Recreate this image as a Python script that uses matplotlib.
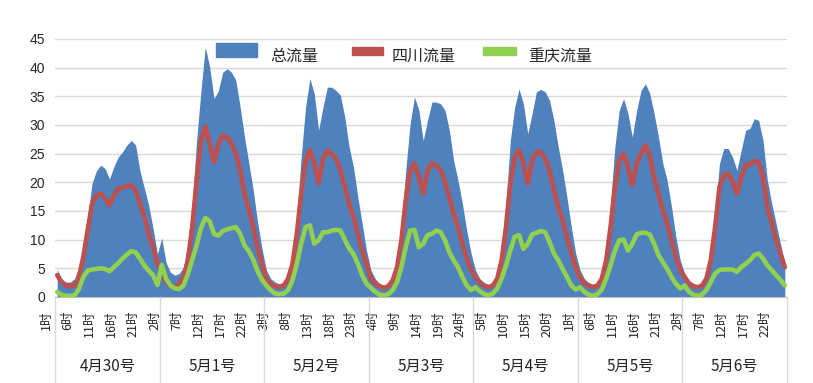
import matplotlib
matplotlib.use("Agg")
import matplotlib.pyplot as plt
import numpy as np
from matplotlib.transforms import blended_transform_factory, ScaledTranslation
from matplotlib.patches import Rectangle

plt.rcParams['font.family'] = ['Noto Sans CJK SC', 'DejaVu Sans']

# ---------------- data ----------------
days = ["4月30号", "5月1号", "5月2号", "5月3号", "5月4号", "5月5号", "5月6号"]
hour_labels = [f"{h}时" for h in range(1, 25)]
series_names = ["总流量", "四川流量", "重庆流量"]

total = [
    4.8, 3.2, 2.6, 2.6, 3.2, 5.2, 8.1, 14.0, 19.8, 22.0, 23.0, 22.4, 20.6, 22.7, 24.4, 25.3, 26.5, 27.3, 26.5, 22.0, 19.0, 16.0, 12.0, 7.5,
    10.3, 6.0, 4.3, 3.8, 4.1, 5.2, 9.3, 16.3, 27.3, 36.0, 43.6, 40.1, 34.6, 36.0, 39.2, 39.8, 39.2, 37.8, 33.1, 27.9, 23.3, 18.6, 13.0, 8.5,
    4.7, 3.2, 2.6, 2.3, 2.6, 3.8, 7.0, 14.0, 24.4, 33.1, 38.1, 35.5, 29.1, 33.1, 36.6, 36.6, 36.0, 35.2, 31.4, 26.2, 22.7, 17.4, 12.8, 8.1,
    4.7, 3.2, 2.3, 2.0, 2.3, 3.5, 6.4, 12.8, 22.1, 30.2, 34.9, 32.6, 27.3, 30.8, 34.0, 34.0, 33.7, 32.6, 29.1, 23.8, 20.3, 16.3, 11.6, 7.6,
    4.7, 3.2, 2.5, 2.2, 2.6, 4.1, 8.1, 16.3, 27.3, 33.1, 36.3, 33.7, 28.5, 32.0, 35.8, 36.2, 35.8, 34.3, 30.8, 26.2, 22.1, 17.4, 12.2, 7.6,
    4.7, 3.2, 2.5, 2.2, 2.6, 4.1, 8.1, 16.3, 26.2, 32.6, 34.6, 32.0, 27.9, 32.6, 36.0, 37.2, 35.5, 32.0, 27.9, 23.3, 20.3, 15.7, 10.5, 6.4,
    4.1, 2.8, 2.2, 2.0, 2.3, 3.5, 7.0, 14.5, 23.3, 25.9, 25.9, 24.4, 22.1, 25.6, 29.1, 29.4, 31.1, 30.8, 27.3, 20.3, 16.3, 12.8, 9.3, 5.8,
]

sichuan = [
    3.8, 2.6, 2.0, 1.9, 2.0, 3.5, 7.0, 11.6, 16.3, 17.7, 18.0, 17.2, 16.0, 17.7, 18.9, 19.1, 19.3, 19.5, 18.6, 16.3, 14.0, 11.0, 8.7, 5.9,
    4.4, 2.6, 1.9, 1.7, 2.3, 3.5, 6.4, 12.2, 20.3, 27.3, 29.7, 26.7, 23.5, 26.7, 28.2, 27.9, 26.7, 25.0, 22.1, 18.0, 15.1, 12.2, 8.5, 5.8,
    3.2, 2.3, 1.9, 1.7, 2.0, 3.2, 5.8, 11.0, 18.0, 23.8, 25.6, 23.3, 19.8, 24.1, 25.6, 25.0, 24.1, 22.1, 19.2, 16.3, 14.0, 11.0, 8.1, 5.8,
    3.2, 2.3, 1.9, 1.6, 1.9, 2.9, 5.2, 9.9, 16.9, 22.1, 23.3, 20.9, 18.0, 22.1, 23.3, 23.0, 22.1, 20.1, 17.4, 14.5, 12.2, 9.3, 6.7, 4.7,
    3.5, 2.5, 2.0, 1.7, 2.0, 3.2, 6.4, 12.2, 19.8, 24.4, 25.6, 23.3, 19.8, 23.8, 25.3, 25.3, 24.1, 22.1, 18.6, 15.7, 13.4, 10.5, 7.6, 5.2,
    3.4, 2.4, 2.0, 1.7, 2.0, 3.2, 6.4, 12.2, 19.2, 23.8, 25.0, 22.7, 19.5, 23.3, 25.0, 26.5, 24.7, 20.9, 18.0, 15.1, 12.8, 9.9, 7.0, 4.7,
    3.5, 2.4, 1.9, 1.7, 2.0, 3.2, 6.4, 12.2, 19.2, 21.2, 21.5, 20.1, 18.0, 20.9, 23.0, 23.1, 23.8, 23.5, 20.9, 15.7, 12.8, 9.9, 7.6, 5.2,
]

chongqing = [
    0.9, 0.4, 0.2, 0.2, 0.3, 1.4, 3.5, 4.6, 4.8, 4.9, 5.0, 4.9, 4.5, 5.2, 5.9, 6.7, 7.4, 8.0, 7.8, 6.7, 5.5, 4.6, 3.8, 2.1,
    5.6, 3.2, 2.0, 1.5, 1.4, 2.0, 4.0, 6.5, 9.0, 12.0, 13.8, 13.2, 11.0, 10.7, 11.5, 11.8, 12.0, 12.2, 11.0, 9.0, 8.0, 6.5, 4.5, 3.0,
    2.0, 1.2, 0.6, 0.5, 0.6, 1.2, 2.9, 5.8, 9.3, 12.2, 12.5, 9.3, 9.9, 11.3, 11.3, 11.6, 11.7, 11.6, 10.0, 8.5, 7.5, 5.8, 3.8, 2.3,
    1.6, 0.9, 0.4, 0.3, 0.5, 1.2, 2.6, 5.2, 8.7, 11.6, 11.7, 8.7, 9.3, 10.8, 11.0, 11.6, 11.3, 9.9, 7.8, 6.4, 5.2, 3.5, 2.0, 1.2,
    1.7, 1.0, 0.5, 0.3, 0.6, 1.5, 3.2, 5.5, 8.1, 10.5, 10.8, 8.4, 9.3, 10.9, 11.2, 11.5, 11.3, 9.6, 7.6, 6.4, 4.9, 3.5, 2.0, 1.3,
    1.7, 0.9, 0.4, 0.2, 0.5, 1.3, 3.2, 5.5, 8.1, 9.9, 10.0, 8.1, 9.3, 10.9, 11.2, 11.2, 10.9, 9.3, 7.3, 6.1, 4.9, 3.5, 2.3, 1.5,
    2.0, 0.9, 0.4, 0.2, 0.4, 1.2, 2.6, 4.1, 4.7, 4.8, 4.8, 4.8, 4.4, 5.2, 5.8, 6.4, 7.3, 7.6, 6.7, 5.5, 4.7, 3.8, 3.0, 2.0,
]

# ---------------- style ----------------
BLUE = '#4F81BD'
RED = '#C0504D'
GREEN = '#92D050'
GRID = '#D9D9D9'

W, H = 813, 383
fig = plt.figure(figsize=(W / 100, H / 100), dpi=100)
ax = fig.add_axes([55 / W, (H - 297) / H, 732 / W, 258 / H])

n = len(total)
x = np.arange(n)
ax.fill_between(x, 0, total, color=BLUE, lw=0, zorder=2)
ax.plot(x, sichuan, color=RED, lw=3.3, solid_joinstyle='round', solid_capstyle='round', zorder=3)
ax.plot(x, chongqing, color=GREEN, lw=3.3, solid_joinstyle='round', solid_capstyle='round', zorder=4)

ax.set_xlim(-0.5, n - 0.5)
ax.set_ylim(0, 45)
ax.set_yticks(range(0, 46, 5))
ax.yaxis.grid(True, color=GRID, lw=1)
ax.set_axisbelow(True)
for s in ['left', 'right', 'top']:
    ax.spines[s].set_visible(False)
ax.spines['bottom'].set_color('#BFBFBF')
ax.tick_params(axis='y', length=0, pad=7, labelsize=10, labelcolor='#262626')
for lab in ax.get_yticklabels():
    lab.set_fontfamily('Liberation Sans')

# hourly category labels, every 5 hours
tick_pos = list(range(0, n, 5))
ax.set_xticks(tick_pos)
ax.set_xticklabels([hour_labels[i % 24] for i in tick_pos], rotation=90, va='top', ha='center')
ax.tick_params(axis='x', length=0, pad=9.5, labelsize=9, labelcolor='#262626')
offset = ScaledTranslation(-11 / 100, 0, fig.dpi_scale_trans)
for lab in ax.get_xticklabels():
    lab.set_transform(lab.get_transform() + offset)

# day groups
blend = blended_transform_factory(ax.transData, ax.transAxes)
for k in range(len(days) + 1):
    ax.plot([24 * k - 0.5] * 2, [0, -86 / 258], transform=blend, clip_on=False,
            color=GRID, lw=1)
for k, d in enumerate(days):
    ax.text(24 * k + 11.5, -(366 - 297) / 258, d, transform=blend, ha='center',
            va='center', fontsize=11, color='#262626')

# legend (drawn in figure pixel coordinates)
def fx(px):
    return px / W

def fy(py):
    return 1 - py / H

fig.patches.append(Rectangle((fx(216), fy(57)), 41 / W, 14 / H, transform=fig.transFigure,
                             color=BLUE, zorder=5))
fig.patches.append(Rectangle((fx(352), fy(55)), 31 / W, 8 / H, transform=fig.transFigure,
                             color=RED, zorder=5))
fig.patches.append(Rectangle((fx(483), fy(55)), 33 / W, 8 / H, transform=fig.transFigure,
                             color=GREEN, zorder=5))
for px, name in zip([270, 392, 528], series_names):
    fig.text(fx(px), fy(56.5), name, va='center', ha='left', fontsize=11.5, color='#262626')

fig.savefig('out.png', dpi=100)
